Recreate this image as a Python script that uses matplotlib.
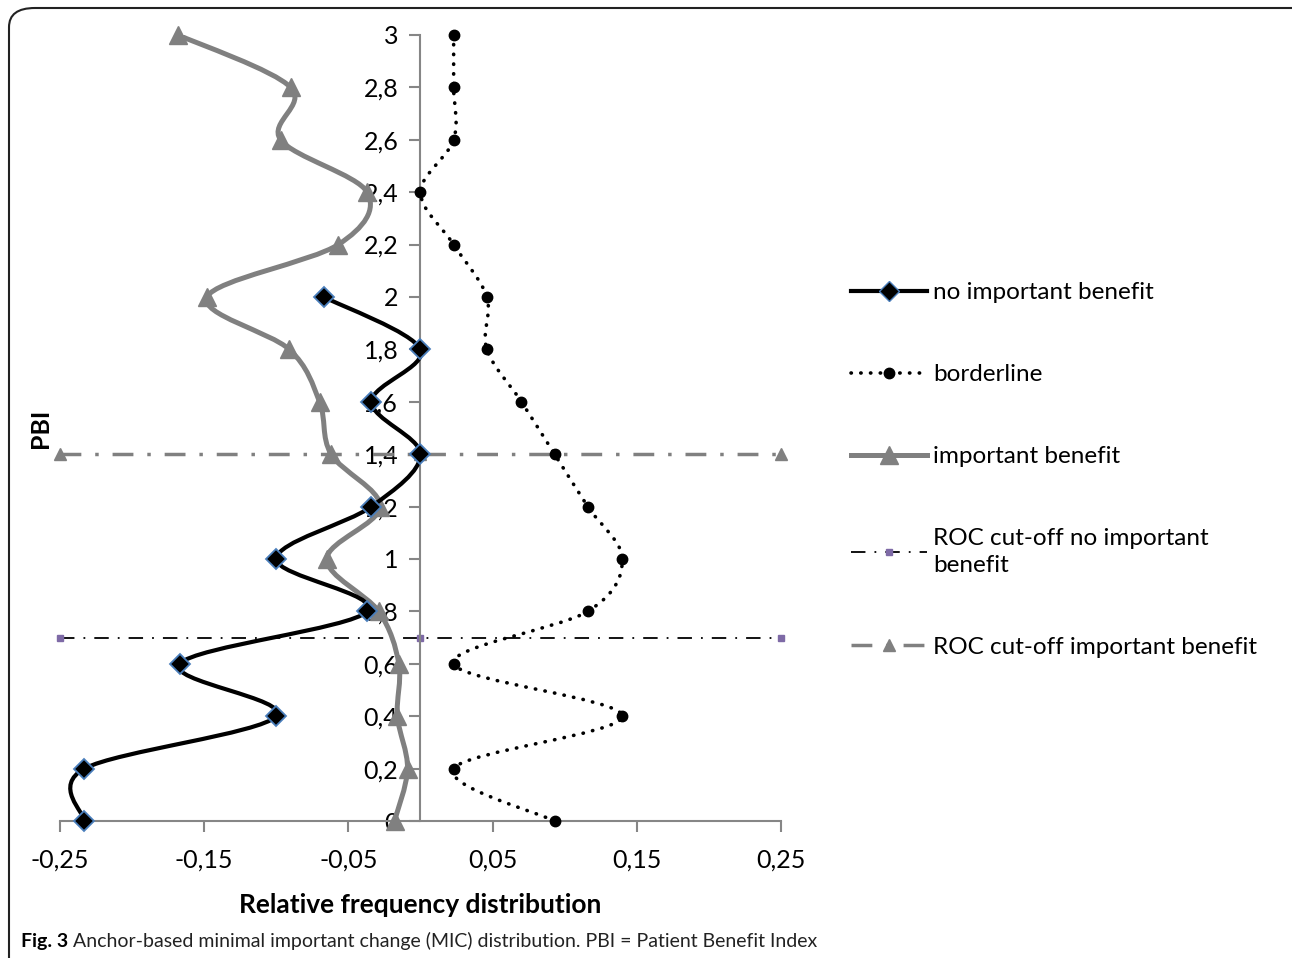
import numpy as np
import matplotlib
matplotlib.use("Agg")
import matplotlib.pyplot as plt
from matplotlib.path import Path
from matplotlib.patches import PathPatch, FancyBboxPatch
from matplotlib.lines import Line2D
from matplotlib.ticker import FuncFormatter

plt.rcParams['font.family'] = ['Lato', 'DejaVu Sans']

# PBI levels (y axis)
pbi_no = [0, 0.2, 0.4, 0.6, 0.8, 1.0, 1.2, 1.4, 1.6, 1.8, 2.0]
freq_no = [-0.233, -0.233, -0.100, -0.167, -0.037, -0.100, -0.034, 0.0, -0.034, 0.0, -0.067]

pbi_all = [0, 0.2, 0.4, 0.6, 0.8, 1.0, 1.2, 1.4, 1.6, 1.8, 2.0, 2.2, 2.4, 2.6, 2.8, 3.0]
freq_border = [0.093, 0.023, 0.140, 0.023, 0.116, 0.140, 0.116, 0.093, 0.070, 0.046,
               0.046, 0.023, 0.0, 0.023, 0.023, 0.023]
freq_imp = [-0.018, -0.009, -0.016, -0.015, -0.029, -0.065, -0.028, -0.062, -0.070, -0.091,
            -0.148, -0.057, -0.037, -0.097, -0.090, -0.168]

# ROC cut-offs
roc_x = [-0.25, 0, 0.25]
roc_no = 0.7
roc_imp = 1.4

xticks = [-0.25, -0.15, -0.05, 0.05, 0.15, 0.25]
yticks = [0, 0.2, 0.4, 0.6, 0.8, 1.0, 1.2, 1.4, 1.6, 1.8, 2.0, 2.2, 2.4, 2.6, 2.8, 3.0]


def smooth_path(x, y):
    # Bezier path through the points, like Excel's smoothed lines
    pts = np.column_stack([x, y])
    n = len(pts)
    verts = [pts[0]]
    codes = [Path.MOVETO]
    for i in range(n - 1):
        p0 = pts[max(i - 1, 0)]
        p1 = pts[i]
        p2 = pts[i + 1]
        p3 = pts[min(i + 2, n - 1)]
        c1 = p1 + (p2 - p0) / 6
        c2 = p2 - (p3 - p1) / 6
        verts += [c1, c2, p2]
        codes += [Path.CURVE4] * 3
    return Path(verts, codes)


fig = plt.figure(figsize=(12.92, 9.58), dpi=100)
ax = fig.add_axes([0.0464, 0.143, 0.5581, 0.8205])

axis_grey = '#868686'

# series
ax.add_patch(PathPatch(smooth_path(freq_imp, pbi_all), fill=False, edgecolor='#808080',
                       lw=3.6, capstyle='round', joinstyle='round', zorder=3))
ax.plot(freq_imp, pbi_all, ls='none', marker='^', ms=13, color='#808080', zorder=4,
        clip_on=False)

ax.add_patch(PathPatch(smooth_path(freq_no, pbi_no), fill=False, edgecolor='black',
                       lw=3.0, capstyle='round', joinstyle='round', zorder=5))
ax.plot(freq_no, pbi_no, ls='none', marker='D', ms=10, color='black',
        markeredgecolor='#4a7ebb', markeredgewidth=1.3, zorder=6, clip_on=False)

ax.add_patch(PathPatch(smooth_path(freq_border, pbi_all), fill=False, edgecolor='black',
                       lw=2.6, linestyle=(0, (0.1, 2.6)), capstyle='round', zorder=5))
ax.plot(freq_border, pbi_all, ls='none', marker='o', ms=7.5, color='black', zorder=6,
        clip_on=False)

ax.plot(roc_x, [roc_no] * 3, color='black', lw=1.3, ls=(0, (8, 5, 1, 5)),
        marker='s', ms=5, markerfacecolor='#7e6aa6', markeredgecolor='#7e6aa6', zorder=2,
        clip_on=False)
ax.plot(roc_x, [roc_imp] * 3, color='#808080', lw=2.5, ls=(0, (6, 4, 1, 4)),
        marker='^', ms=8, markerfacecolor='#808080', markeredgecolor='#808080', zorder=2,
        clip_on=False)

ax.set_xlim(-0.25, 0.25)
ax.set_ylim(0, 3)
ax.set_xticks(xticks)
ax.set_yticks(yticks)
fmt = FuncFormatter(lambda v, p: ('%g' % round(v, 2)).replace('.', ','))
ax.xaxis.set_major_formatter(fmt)
ax.yaxis.set_major_formatter(fmt)

for s in ['top', 'right']:
    ax.spines[s].set_visible(False)
ax.spines['left'].set_position(('data', 0))
ax.spines['left'].set_color(axis_grey)
ax.spines['bottom'].set_color(axis_grey)
ax.spines['left'].set_linewidth(1.5)
ax.spines['bottom'].set_linewidth(1.5)
ax.tick_params(axis='both', colors=axis_grey, width=1.5, length=8, labelsize=18,
               labelcolor='black')
ax.tick_params(axis='x', pad=12)
ax.tick_params(axis='y', pad=8)

ax.set_xlabel('Relative frequency distribution', fontsize=19, fontweight='bold', labelpad=15)
fig.text(0.031, 0.553, 'PBI', rotation=90, fontsize=18, fontweight='bold',
         ha='center', va='center')

handles = [
    Line2D([], [], color='black', lw=3.0, marker='D', ms=10, markeredgecolor='#4a7ebb'),
    Line2D([], [], color='black', lw=2.6, ls=(0, (0.1, 2.6)), dash_capstyle='round',
           marker='o', ms=7.5),
    Line2D([], [], color='#808080', lw=3.6, marker='^', ms=13),
    Line2D([], [], color='black', lw=1.3, ls=(0, (8, 5, 1, 5)), marker='s', ms=5,
           markerfacecolor='#7e6aa6', markeredgecolor='#7e6aa6'),
    Line2D([], [], color='#808080', lw=2.5, ls=(0, (6, 4, 1, 4)), marker='^', ms=8),
]
labels = ['no important benefit', 'borderline', 'important benefit',
          'ROC cut-off no important\nbenefit', 'ROC cut-off important benefit']
leg = fig.legend(handles, labels, loc='upper left', bbox_to_anchor=(0.642, 0.728),
                 frameon=False, fontsize=17.5, handlelength=3.1, handletextpad=0.25,
                 labelspacing=2.5)
for t in leg.get_texts():
    t.set_linespacing(1.35)

cap = fig.text(0.016, 0.011, 'Fig. 3', fontsize=14, fontweight='bold')
rest = fig.text(0.016, 0.011, ' Anchor-based minimal important change (MIC) distribution. '
                'PBI = Patient Benefit Index', fontsize=14, color='#222222')
fig.canvas.draw()
bb = cap.get_window_extent()
rest.set_position((bb.x1 / fig.bbox.width, 0.011))

frame = FancyBboxPatch((9 / 1292, -0.02), 1.05, 1 - 8 / 958 + 0.02,
                       boxstyle='round,pad=0,rounding_size=0.02',
                       transform=fig.transFigure, fill=False, edgecolor='#222222',
                       lw=1.5, clip_on=False)
fig.patches.append(frame)

fig.savefig('out.png', dpi=100)
